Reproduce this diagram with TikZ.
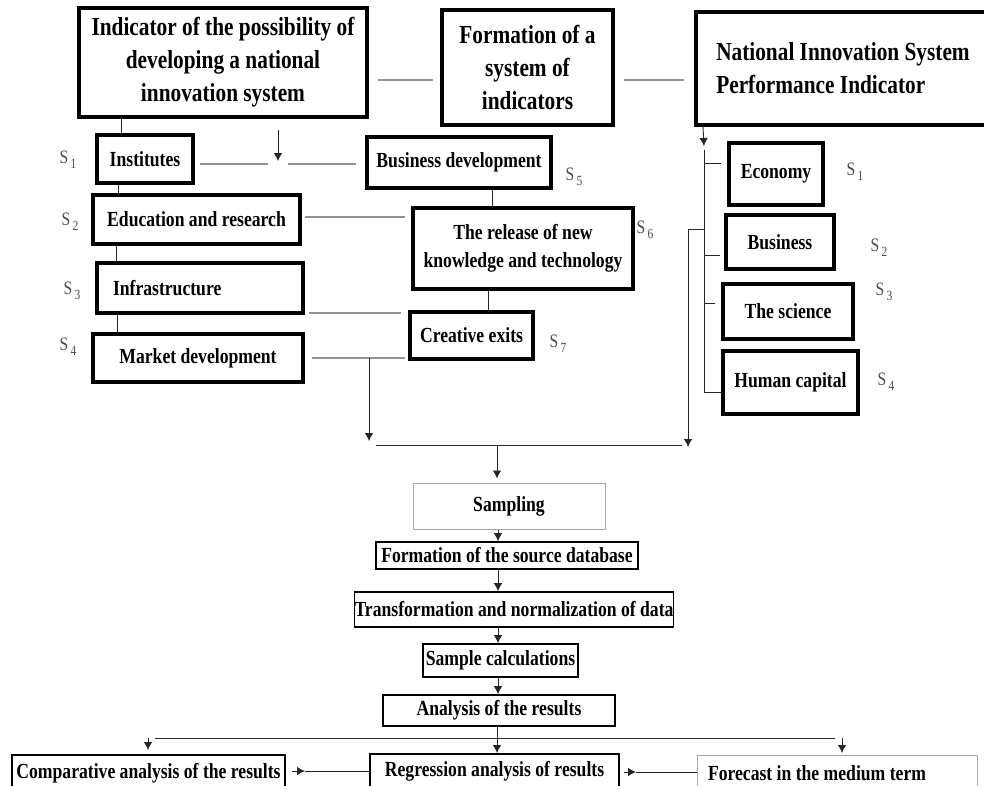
\documentclass[tikz,border=0pt]{standalone}
\usepackage{fontspec}
\setmainfont{Liberation Serif}[FakeStretch=0.82]
\usetikzlibrary{arrows.meta}
\newcommand{\headfont}{\fontsize{26}{33}\selectfont\bfseries}
\newcommand{\boxfont}{\fontsize{21.5}{28}\selectfont\bfseries}
\newcommand{\sidx}[1]{S\raisebox{-5pt}{\fontsize{14}{14}\selectfont\,#1}}

\begin{document}
\begin{tikzpicture}[x=1pt,y=-1pt]
            \tikzstyle{headbox}=[draw, line width=3.2pt, inner sep=0pt, align=center, font=\headfont]
            \tikzstyle{factorbox}=[draw, line width=3.2pt, inner sep=0pt, align=center, font=\boxfont]
            \tikzstyle{stepbox}=[draw, line width=1.6pt, inner sep=0pt, align=center, font=\boxfont]
            \tikzstyle{softbox}=[draw=gray!70, line width=1pt, inner sep=0pt, align=center, font=\boxfont]
            \tikzstyle{slabel}=[text=black!70, inner sep=0pt, font=\fontsize{19}{19}\selectfont]
            \tikzstyle{gline}=[gray!85, line width=1.4pt]
            \tikzstyle{bline}=[black!85, line width=0.9pt]
            \tikzstyle{arrow}=[black!85, line width=0.9pt, -{Latex[length=8pt,width=8.5pt]}]
            \useasboundingbox (0,0) rectangle (984,785);
            \clip (0,0) rectangle (984,785);
            % heads
            \node[headbox, minimum width=288pt, minimum height=109pt] (ind) at (223,62.5) {Indicator of the possibility of\\developing a national\\innovation system};
            \node[headbox, minimum width=171pt, minimum height=115pt] (form) at (527.5,67.5) {Formation of a\\system of\\indicators};
            \node[headbox, minimum width=294pt, minimum height=113pt, align=left] (perf) at (843,68.5) {National Innovation System\\Performance Indicator};
            % possibility factors
            \node[factorbox, minimum width=96pt, minimum height=48pt] (inst) at (145,159) {Institutes};
            \node[factorbox, minimum width=207pt, minimum height=49pt] (edu) at (196.5,219.5) {Education and research};
            \node[factorbox, minimum width=206pt, minimum height=50pt, text width=174pt, inner xsep=16pt, align=flush left] (infra) at (200,288) {Infrastructure};
            \node[factorbox, minimum width=210pt, minimum height=48pt] (market) at (198,358) {Market development};
            \node[factorbox, minimum width=184pt, minimum height=51pt] (busdev) at (459,162.5) {Business development};
            \node[factorbox, minimum width=220pt, minimum height=81pt] (release) at (523,248.5) {The release of new\\knowledge and technology};
            \node[factorbox, minimum width=123pt, minimum height=47pt] (creative) at (471.5,335.5) {Creative exits};
            % performance factors
            \node[factorbox, minimum width=94pt, minimum height=62pt] (econ) at (776,174) {Economy};
            \node[factorbox, minimum width=108pt, minimum height=54pt] (busi) at (780,242) {Business};
            \node[factorbox, minimum width=130pt, minimum height=55pt] (sci) at (788,311.5) {The science};
            \node[factorbox, minimum width=135pt, minimum height=63pt] (human) at (790.5,382.5) {Human capital};
            % labels
            \node[slabel] (s1) at (68,160) {\sidx{1}};
            \node[slabel] (s2) at (70,222) {\sidx{2}};
            \node[slabel] (s3) at (72,291) {\sidx{3}};
            \node[slabel] (s4) at (68,347) {\sidx{4}};
            \node[slabel] (s5) at (574,177) {\sidx{5}};
            \node[slabel] (s6) at (645,230) {\sidx{6}};
            \node[slabel] (s7) at (558,344) {\sidx{7}};
            \node[slabel] (p1) at (855,172) {\sidx{1}};
            \node[slabel] (p2) at (879,248) {\sidx{2}};
            \node[slabel] (p3) at (884,292) {\sidx{3}};
            \node[slabel] (p4) at (886,382) {\sidx{4}};
            % procedure
            \node[softbox, minimum width=192pt, minimum height=46pt] (sampling) at (509,506) {Sampling};
            \node[stepbox, minimum width=262pt, minimum height=27pt] (srcdb) at (507,555.5) {Formation of the source database};
            \node[stepbox, minimum width=318pt, minimum height=35pt] (transf) at (514,609.5) {Transformation and normalization of data};
            \node[stepbox, minimum width=155pt, minimum height=33pt] (calc) at (500.5,660.5) {Sample calculations};
            \node[stepbox, minimum width=232pt, minimum height=31pt] (analysis) at (499,710.5) {Analysis of the results};
            \node[stepbox, minimum width=273pt, minimum height=36pt, anchor=north] (comp) at (148.5,754) {Comparative analysis of the results};
            \node[stepbox, minimum width=249pt, minimum height=34pt, anchor=north] (regr) at (494.5,753) {Regression analysis of results};
            \node[softbox, minimum width=280pt, minimum height=36pt, anchor=north, text width=258pt, inner xsep=11pt, align=flush left] (forecast) at (837,755) {Forecast in the medium term};
            % top links
            \draw[gline, shorten <=9pt, shorten >=7pt] ([yshift=-17.5pt]ind.east) -- ([yshift=-12.5pt]form.west);
            \draw[gline, shorten <=9pt, shorten >=10pt] ([yshift=-12.5pt]form.east) -- ([yshift=-11.5pt]perf.west);
            \draw[bline] (ind.south -| 121,0) -- (inst.north -| 121,0);
            \draw[bline] (inst.south -| 118,0) -- (edu.north -| 118,0);
            \draw[bline] (edu.south -| 116,0) -- (infra.north -| 116,0);
            \draw[bline] (infra.south -| 117,0) -- (market.north -| 117,0);
            \coordinate (tee) at (278,164);
            \draw[gline, shorten <=5pt, shorten >=10pt] (inst.east |- tee) -- (tee);
            \draw[gline, shorten <=10pt, shorten >=9pt] (tee) -- (busdev.west |- tee);
            \draw[arrow] (tee |- 0,130) -- ([yshift=3pt]tee);
            \draw[bline] (busdev.south -| 492,0) -- (release.north -| 492,0);
            \draw[bline] (release.south -| 488,0) -- (creative.north -| 488,0);
            \draw[gline, shorten <=3pt, shorten >=6pt] (edu.east |- 0,217) -- (release.west |- 0,217);
            \draw[gline, shorten <=4pt, shorten >=7pt] (infra.east |- 0,313) -- (creative.west |- 0,313);
            \coordinate (drop) at (369,358);
            \draw[gline, shorten <=7pt, shorten >=3pt] (market.east |- drop) -- (creative.west |- drop);
            \draw[arrow] (drop) -- (drop |- 0,441);
            % right column
            \coordinate (rtop) at (704,150);
            \coordinate (rbot) at (704,392);
            \coordinate (rout) at (688,229);
            \draw[arrow] (perf.south -| 703,0) -- ([yshift=4pt]rtop);
            \draw[bline] (rtop) -- (rbot);
            \draw[bline, shorten >=6pt] (rtop |- 0,163) -- (econ.west |- 0,163);
            \draw[bline, shorten >=4pt] (rtop |- 0,255) -- (busi.west |- 0,255);
            \draw[bline, shorten >=6pt] (rtop |- 0,303) -- (sci.west |- 0,303);
            \draw[bline] (rbot) -- (human.west |- rbot);
            \draw[bline] (rtop |- rout) -- (rout);
            \draw[arrow] (rout) -- (rout |- 0,447);
            % gathering
            \coordinate (busl) at (376,445);
            \coordinate (busm) at (497,445);
            \coordinate (busr) at (682,445);
            \draw[bline] (busl) -- (busr);
            \draw[arrow, shorten >=4pt] (busm) -- (sampling.north -| busm);
            \draw[arrow] (sampling.south -| 498,0) -- (srcdb.north -| 498,0);
            \draw[arrow] (srcdb.south -| 498,0) -- (transf.north -| 498,0);
            \draw[arrow] (transf.south -| 498,0) -- (calc.north -| 498,0);
            \draw[arrow] (calc.south -| 498,0) -- (analysis.north -| 498,0);
            % results
            \coordinate (fanl) at (148,738);
            \coordinate (fanr) at (842,738);
            \draw[arrow] (analysis.south -| 497,0) -- (regr.north -| 497,0);
            \draw[bline] ([xshift=7pt]fanl) -- ([xshift=-7pt]fanr);
            \draw[arrow, shorten >=4pt] (fanl) -- (comp.north -| fanl);
            \draw[arrow, shorten >=2pt] (fanr) -- (forecast.north -| fanr);
            \coordinate (cr) at (305,771);
            \coordinate (rf) at (636,772);
            \draw[arrow, shorten <=6pt] (comp.east |- cr) -- (cr);
            \draw[bline] (cr) -- (regr.west |- cr);
            \draw[arrow, shorten <=4pt] (regr.east |- rf) -- (rf);
            \draw[bline] (rf) -- (forecast.west |- rf);
\end{tikzpicture}
\end{document}
